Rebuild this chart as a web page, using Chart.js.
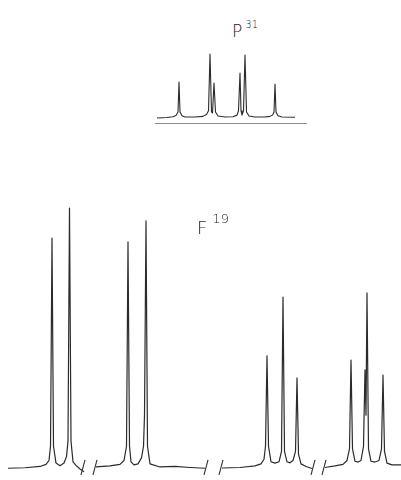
<!DOCTYPE html>
<html>
<head>
<meta charset="utf-8">
<script src="https://cdn.jsdelivr.net/npm/chart.js@4.4.0/dist/chart.umd.min.js"></script>
<style>
  body { margin: 0; background: #fff; }
  #page { position: relative; width: 401px; height: 480px; overflow: hidden; background: #fff; }
  canvas { position: absolute; }
  .lbl { position: absolute; font-family: "DejaVu Sans", sans-serif; font-weight: 200; color: #222; line-height: 1; }
  .lbl sup { font-size: 10px; position: relative; top: -2px; margin-left: 3px; }
</style>
</head>
<body>
<div id="page">
  <canvas id="p31" width="152" height="80" style="left:155px; top:44px;"></canvas>
  <canvas id="f19" width="401" height="275" style="left:0px; top:200px;"></canvas>
  <div class="lbl" style="left:232px; top:22px; font-size:17px;">P<sup>31</sup></div>
  <div class="lbl" style="left:197px; top:216px; font-size:18px;">F<sup style="font-size:13px; top:-4px; margin-left:5px;">19</sup></div>
</div>
<script>
// P31 trace (arbitrary frequency units, relative intensity)
var p31X = [2, 12, 18, 21, 23, 24, 25, 27, 30, 40, 48, 51.5, 53.5, 55, 56.5, 57.5, 59, 60.5, 63, 70,
            78, 82, 83.5, 85, 86, 87, 88.5, 90, 91.5, 94, 100, 110, 115, 117.5, 119, 120, 121, 123, 127, 140];
var p31Y = [-1.6, -0.8, 0.5, 2.5, 8, 55.6, 8, 2, 0, 0, 1, 4, 10, 100, 8, 6.3, 54, 8, 1.5, 0,
            0.5, 3, 10, 69.8, 10, 3, 10, 98.4, 8, 1.5, 0, 0, 1, 3, 8, 52.4, 8, 2, 0, -0.5];
var rulerX = [0, 152];
var rulerY = [-11, -11];

// F19 trace, four pieces of the sweep
var f19aX = [8, 25, 40, 46, 49, 50.5, 52, 53.5, 56, 60, 64, 66.5, 68, 69.5, 71, 73, 76, 80, 84];
var f19aY = [-0.5, -0.3, 0.2, 1.0, 2.5, 8, 88.4, 8, 1.5, 0.5, 1.5, 4, 10, 100, 10, 2, 0.6, -0.8, -1.8];
var f19bX = [96, 110, 120, 124, 126.5, 128, 129.5, 131, 134, 138, 141.5, 143.5, 144.5, 146, 147.5, 150, 160, 175, 190, 205];
var f19bY = [0, 0.4, 1.0, 2.5, 8, 86.9, 8, 2, 0.8, 1.2, 3.5, 8, 20, 95, 8, 1.2, 0, 0.2, -0.2, -0.5];
var f19cX = [222, 240, 255, 261, 264, 265.5, 267, 268.5, 271, 275, 279, 281.5, 283, 284.5, 287, 290, 293, 295.5, 297, 298.5, 301, 306, 312];
var f19cY = [-0.4, -0.2, 0.4, 1.2, 3, 8, 42.9, 8, 2, 1.5, 2, 6, 65.6, 6, 2, 1.6, 2.5, 6, 34.4, 5, 1.2, 0.2, -0.6];
var f19dX = [325, 335, 343, 347, 349.5, 351, 352.5, 355, 358, 361, 363.5, 365, 366, 367, 368.5, 371, 375, 379, 381.5, 383, 384.5, 387, 392, 401];
var f19dY = [-0.2, 0.4, 1.0, 2.5, 7, 41.3, 7, 2.2, 1.9, 2.5, 8, 37.5, 20, 67.2, 7, 2.2, 1.9, 2.5, 7, 35.5, 6, 1.5, 0.8, 0.8];
var breakX = [83, 95, 206, 221, 313, 324];

function pts(xs, ys) {
    var out = [];
    for (var i = 0; i < xs.length; i++) {
        out.push({x: xs[i], y: ys[i]});
    }
    return out;
}

function trace(xs, ys, w, col) {
    return {
        data: pts(xs, ys),
        showLine: true,
        borderColor: col || '#2b2b2b',
        borderWidth: w || 1.2,
        pointRadius: 0,
        borderJoinStyle: 'round',
        tension: 0,
        clip: false
    };
}

function opts(xmin, xmax, ymin, ymax) {
    return {
        responsive: false,
        animation: false,
        events: [],
        layout: {padding: 0},
        plugins: {legend: {display: false}, tooltip: {enabled: false}},
        scales: {
            x: {type: 'linear', min: xmin, max: xmax, display: false},
            y: {type: 'linear', min: ymin, max: ymax, display: false}
        }
    };
}

// the little "//" marks where the sweep was cut
var breakMarks = {
    id: 'breakMarks',
    afterDatasetsDraw: function(chart) {
        var ctx = chart.ctx;
        var y0 = chart.scales.y.getPixelForValue(0);
        ctx.save();
        ctx.strokeStyle = '#333';
        ctx.lineWidth = 1.1;
        breakX.forEach(function(v) {
            var px = chart.scales.x.getPixelForValue(v);
            ctx.beginPath();
            ctx.moveTo(px - 2, y0 + 8);
            ctx.lineTo(px + 2, y0 - 7);
            ctx.stroke();
        });
        ctx.restore();
    }
};

new Chart(document.getElementById('p31'), {
    type: 'scatter',
    data: {
        datasets: [
            trace(p31X, p31Y, 1.1),
            trace(rulerX, rulerY, 1.3, '#666')
        ]
    },
    options: opts(0, 152, -11.1, 115.9)
});

new Chart(document.getElementById('f19'), {
    type: 'scatter',
    data: {
        datasets: [
            trace(f19aX, f19aY),
            trace(f19bX, f19bY),
            trace(f19cX, f19cY),
            trace(f19dX, f19dY)
        ]
    },
    options: opts(0, 401, -3.1, 103.1),
    plugins: [breakMarks]
});
</script>
</body>
</html>
